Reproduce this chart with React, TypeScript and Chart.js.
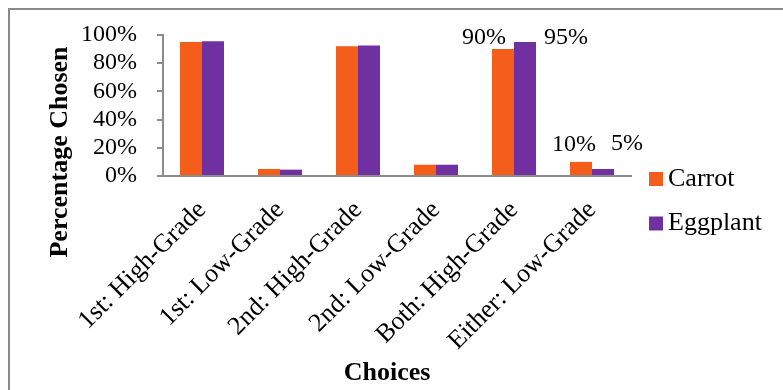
import { useEffect, useRef } from "react";
import { Chart, registerables } from "chart.js";

Chart.register(...registerables);

const categories = [
  "1st: High-Grade",
  "1st: Low-Grade",
  "2nd: High-Grade",
  "2nd: Low-Grade",
  "Both: High-Grade",
  "Either: Low-Grade",
];
const carrot = [95, 5, 92, 8, 90, 10];
const eggplant = [95.5, 4.5, 92.5, 8, 95, 5];
const yTicks = [0, 20, 40, 60, 80, 100];
const seriesNames = ["Carrot", "Eggplant"];
// categories whose bars carry a value label
const labelledCategories = [4, 5];

const SERIF = '"Liberation Serif", "Times New Roman", serif';
const ORANGE = "#F55D1B";
const PURPLE = "#7030A0";
const AXIS = "#8c8c8c";

// value label offsets from the top-centre of each bar, keyed "dataset-category"
const labelOffsets: Record<string, [number, number]> = {
  "0-4": [-19, -11],
  "1-4": [41, -4],
  "0-5": [-7, -17],
  "1-5": [24, -25],
};

const decorations = {
  id: "decorations",
  afterDatasetsDraw(chart: any) {
    const { ctx, chartArea } = chart;
    ctx.save();
    ctx.fillStyle = "#000";
    ctx.textAlign = "center";
    ctx.textBaseline = "middle";

    // value labels
    ctx.font = `24px ${SERIF}`;
    chart.data.datasets.forEach((ds: any, di: number) => {
      const meta = chart.getDatasetMeta(di);
      labelledCategories.forEach((ci) => {
        const bar = meta.data[ci];
        const [dx, dy] = labelOffsets[`${di}-${ci}`] ?? [0, -12];
        ctx.fillText(`${ds.data[ci]}%`, bar.x + dx, bar.y + dy);
      });
    });

    // axis titles
    ctx.font = `bold 26px ${SERIF}`;
    ctx.fillText("Choices", (chartArea.left + chartArea.right) / 2 - 10, 373);
    ctx.save();
    ctx.translate(60.5, 152);
    ctx.rotate(-Math.PI / 2);
    ctx.fillText("Percentage Chosen", 0, 0);
    ctx.restore();

    // legend
    ctx.font = `26px ${SERIF}`;
    ctx.textAlign = "left";
    chart.data.datasets.forEach((ds: any, di: number) => {
      const cy = chartArea.bottom + 3 + di * 44.5;
      const sx = chartArea.right + 18;
      ctx.fillStyle = ds.backgroundColor;
      ctx.fillRect(sx, cy - 7, 14, 14);
      ctx.fillStyle = "#000";
      ctx.fillText(ds.label, sx + 19, cy);
    });
    ctx.restore();
  },
};

export default function App() {
  const canvasRef = useRef<HTMLCanvasElement | null>(null);

  useEffect(() => {
    const canvas = canvasRef.current;
    if (!canvas) return;
    const chart = new Chart(canvas, {
      type: "bar",
      data: {
        labels: categories,
        datasets: [
          {
            label: seriesNames[0],
            data: carrot,
            backgroundColor: ORANGE,
            borderWidth: 0,
            categoryPercentage: 0.564,
            barPercentage: 1,
          },
          {
            label: seriesNames[1],
            data: eggplant,
            backgroundColor: PURPLE,
            borderWidth: 0,
            categoryPercentage: 0.564,
            barPercentage: 1,
          },
        ],
      },
      options: {
        animation: false,
        responsive: false,
        maintainAspectRatio: false,
        layout: { padding: { top: 35, right: 152, left: 0, bottom: 0 } },
        plugins: {
          legend: { display: false },
          tooltip: { enabled: false },
        },
        scales: {
          x: {
            ticks: {
              minRotation: 45,
              maxRotation: 45,
              autoSkip: false,
              padding: 19,
              color: "#000",
              font: { family: SERIF, size: 26 },
            },
            grid: { display: false, drawTicks: false },
            border: { display: true, color: AXIS, width: 2 },
            afterFit: (s: any) => {
              s.height = 390 - 176;
            },
          },
          y: {
            min: 0,
            max: 100,
            afterBuildTicks: (s: any) => {
              s.ticks = yTicks.map((v) => ({ value: v }));
            },
            ticks: {
              autoSkip: false,
              padding: 20,
              color: "#000",
              font: { family: SERIF, size: 24 },
              callback: (v: any) => `${v}%`,
            },
            grid: {
              display: true,
              drawOnChartArea: false,
              drawTicks: true,
              tickLength: 6,
              color: AXIS,
              lineWidth: 2,
            },
            border: { display: true, color: AXIS, width: 2 },
            afterFit: (s: any) => {
              s.width = 163;
            },
          },
        },
      },
      plugins: [decorations],
    });
    return () => chart.destroy();
  }, []);

  return (
    <div
      style={{
        position: "fixed",
        left: 0,
        top: 0,
        width: 783,
        height: 390,
        overflow: "hidden",
        background: "#fff",
      }}
    >
      <div
        style={{
          position: "absolute",
          left: 8,
          top: 8,
          width: 800,
          height: 400,
          borderTop: "2px solid #8a8a8a",
          borderLeft: "2px solid #8a8a8a",
          boxSizing: "border-box",
        }}
      />
      <canvas
        ref={canvasRef}
        width={783}
        height={390}
        style={{ position: "absolute", left: 0, top: 0 }}
      />
    </div>
  );
}
